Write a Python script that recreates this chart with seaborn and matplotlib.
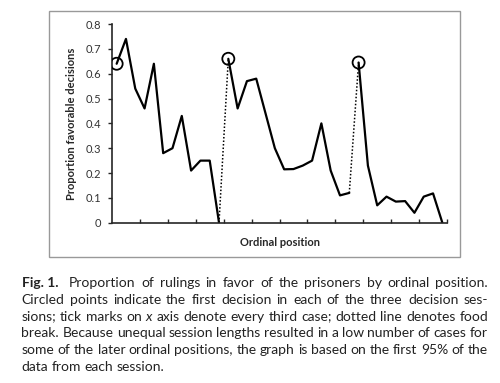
import numpy as np
import pandas as pd
import matplotlib
matplotlib.use("Agg")
import matplotlib.pyplot as plt
from matplotlib.patches import Rectangle
from matplotlib.ticker import FuncFormatter
import seaborn as sns

# proportion of favourable rulings by ordinal position, three sessions
session1 = [0.64, 0.74, 0.54, 0.46, 0.64, 0.28, 0.30, 0.43, 0.21, 0.25, 0.25, 0.0]
session2 = [0.66, 0.46, 0.57, 0.58, 0.44, 0.30, 0.215, 0.216, 0.23, 0.25,
            0.40, 0.21, 0.11, 0.12]
session3 = [0.645, 0.23, 0.07, 0.105, 0.085, 0.087, 0.04, 0.105, 0.118, 0.0]
sessions = [session1, session2, session3]

caption_lines = [
    "Proportion of rulings in favor of the prisoners by ordinal position.",
    "Circled points indicate the first decision in each of the three decision ses-",
    "sions; tick marks on x axis denote every third case; dotted line denotes food",
    "break. Because unequal session lengths resulted in a low number of cases for",
    "some of the later ordinal positions, the graph is based on the first 95% of the",
    "data from each session.",
]

# build long table with ordinal index
rows = []
start = 1
for s, vals in enumerate(sessions):
    for k, v in enumerate(vals):
        rows.append({"pos": start + k, "prop": v, "session": s + 1})
    start += len(vals)
df = pd.DataFrame(rows)
n_total = len(df)

sns.set_style("ticks")
plt.rcParams['font.family'] = ['Lato', 'DejaVu Sans']

fig = plt.figure(figsize=(5.0, 3.83), dpi=100)
ax = fig.add_axes([0.224, 0.4185, 0.67, 0.5188])

for s in df["session"].unique():
    sub = df[df["session"] == s]
    sns.lineplot(data=sub, x="pos", y="prop", color="black", lw=1.6, ax=ax)

# dotted food-break connectors
firsts = df.groupby("session").first().reset_index()
lasts = df.groupby("session").last().reset_index()
for i in range(len(sessions) - 1):
    ax.plot([lasts.loc[i, "pos"], firsts.loc[i + 1, "pos"]],
            [lasts.loc[i, "prop"], firsts.loc[i + 1, "prop"]],
            color="black", lw=1.1, ls=(0, (1, 1.3)))

sns.scatterplot(data=firsts, x="pos", y="prop", s=75, facecolor="none",
                edgecolor="black", linewidth=1.3, ax=ax, zorder=5)

ax.set_xlim(0.5, n_total + 0.5)
ax.set_ylim(0, 0.8)
ax.set_yticks(np.arange(0, 0.81, 0.1))
ax.yaxis.set_major_formatter(FuncFormatter(lambda v, p: f"{v:g}"))
ax.set_xticks(np.arange(3.5, n_total + 0.6, 3))
ax.set_xticklabels([])
ax.tick_params(axis="x", direction="in", length=3, width=1)
ax.tick_params(axis="y", direction="out", length=3, width=1,
               labelsize=8, labelcolor="#333333", pad=5)
for sp in ["top", "right"]:
    ax.spines[sp].set_visible(False)
for sp in ["left", "bottom"]:
    ax.spines[sp].set_linewidth(1.2)
ax.set_xlabel("Ordinal position", fontsize=8, fontweight="bold", labelpad=7)
ax.set_ylabel("Proportion favorable decisions", fontsize=8, fontweight="bold",
              labelpad=6)

# frame around the chart
fig.patches.append(Rectangle((49 / 500, 1 - 257 / 383), 411 / 500, 246 / 383,
                             transform=fig.transFigure, fill=False,
                             edgecolor="#999999", lw=1))

# justified caption, word by word
fig.canvas.draw()
renderer = fig.canvas.get_renderer()
W, H = 500, 383
left_px, right_px = 21.5, 488
base0 = 287
lh = 16.8
fs = 10
col = "#222222"

probe1 = fig.text(0, 0, "a a", fontsize=fs)
probe2 = fig.text(0, 0, "aa", fontsize=fs)
normal_gap = (probe1.get_window_extent(renderer).width
              - probe2.get_window_extent(renderer).width)
probe1.remove()
probe2.remove()

for li, line in enumerate(caption_lines):
    y = 1 - (base0 + li * lh) / H
    items = []
    if li == 0:
        items.append(("Fig. 1.", "bold", "normal"))
    for w in line.split(" "):
        style = "italic" if (li == 2 and w == "x") else "normal"
        items.append((w, "normal", style))
    texts = [fig.text(0, y, w, fontsize=fs, fontweight=wt, fontstyle=st,
                      color=col, va="baseline", ha="left")
             for w, wt, st in items]
    widths = [t.get_window_extent(renderer).width for t in texts]
    if li == len(caption_lines) - 1:
        gaps = [normal_gap] * (len(texts) - 1)
    else:
        extra = normal_gap * 1.5 if li == 0 else 0.0
        g = (right_px - left_px - sum(widths) - extra) / (len(texts) - 1)
        gaps = [g] * (len(texts) - 1)
        gaps[0] += extra
    x = left_px
    for k, (t, w) in enumerate(zip(texts, widths)):
        t.set_x(x / W)
        if k < len(gaps):
            x += w + gaps[k]

fig.savefig("out.png", dpi=100)
